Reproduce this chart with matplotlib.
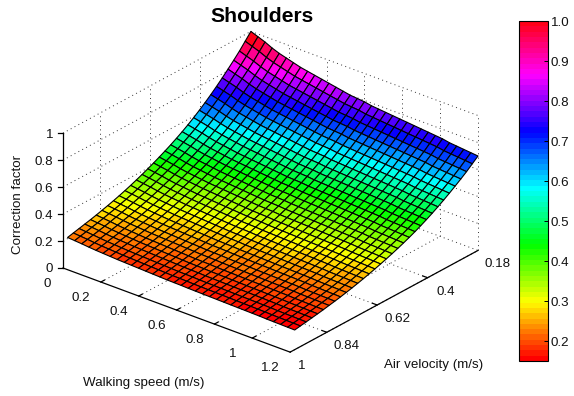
import matplotlib
matplotlib.use("Agg")
import matplotlib.pyplot as plt
import numpy as np
from matplotlib.lines import Line2D
from matplotlib.colors import Normalize
from mpl_toolkits.mplot3d import proj3d

plt.rcParams['font.family'] = ['Liberation Sans', 'DejaVu Sans']

W, H = 574, 396

walk_ticks = [0, 0.2, 0.4, 0.6, 0.8, 1, 1.2]
air_ticks = [0.18, 0.4, 0.62, 0.84, 1]
z_ticks = [0, 0.2, 0.4, 0.6, 0.8, 1]
cbar_ticks = [0.2, 0.3, 0.4, 0.5, 0.6, 0.7, 0.8, 0.9, 1.0]

walking_speed = [0, 0.0375, 0.075, 0.1125, 0.15, 0.1875, 0.225, 0.2625, 0.3, 0.3375, 0.375,
                 0.4125, 0.45, 0.4875, 0.525, 0.5625, 0.6, 0.6375, 0.675, 0.7125, 0.75,
                 0.7875, 0.825, 0.8625, 0.9, 0.9375, 0.975, 1.0125, 1.05, 1.0875, 1.125,
                 1.1625, 1.2]
air_velocity = [0.18, 0.205, 0.23, 0.255, 0.28, 0.305, 0.33, 0.355, 0.38, 0.405, 0.43,
                0.455, 0.48, 0.505, 0.53, 0.555, 0.58, 0.605, 0.63, 0.655, 0.68,
                0.705, 0.73, 0.755, 0.78, 0.805, 0.83, 0.855, 0.88, 0.905, 0.93,
                0.955, 0.98]

# correction factor along the back-left edge (walking speed 0)
edge_at_still = [1.00, 0.95, 0.90, 0.855, 0.812, 0.77, 0.73, 0.692, 0.656, 0.622, 0.59,
                 0.56, 0.532, 0.506, 0.481, 0.458, 0.436, 0.415, 0.395, 0.376, 0.358,
                 0.341, 0.325, 0.31, 0.296, 0.283, 0.271, 0.259, 0.248, 0.238, 0.228,
                 0.218, 0.208]
walk_drop = [1.00, 0.98, 0.96, 0.935, 0.915, 0.90, 0.885, 0.87, 0.86, 0.85, 0.84,
             0.83, 0.82, 0.81, 0.80, 0.795, 0.79, 0.78, 0.775, 0.77, 0.765,
             0.76, 0.755, 0.75, 0.745, 0.74, 0.735, 0.73, 0.72, 0.715, 0.71,
             0.705, 0.70]

# interior of the surface is not read cell by cell, it is built from the two edges above
Z = np.outer(walk_drop, edge_at_still)
X, Y = np.meshgrid(walking_speed, air_velocity, indexing='ij')

cmap = plt.get_cmap('hsv', 64)
norm = Normalize(0.15, 1.0)

fig = plt.figure(figsize=(W / 100, H / 100), dpi=100)
ax = fig.add_axes([0.1, 0.1, 0.6, 0.8], projection='3d', proj_type='ortho', computed_zorder=False)
ax.view_init(elev=26.6, azim=-50.4)
ax.set_box_aspect((295, 295, 151))
ax.set_xlim(0, 1.2, view_margin=0)
ax.set_ylim(1, 0.18, view_margin=0)
ax.set_zlim(0, 1, view_margin=0)
ax.set_axis_off()
ax.patch.set_alpha(0)


def to_px(x, y, z):
    ax.apply_aspect()
    xp, yp, _ = proj3d.proj_transform(x, y, z, ax.get_proj())
    return ax.transData.transform((xp, yp))


# move the axes so the floor corners land where they are in the reference
for i in range(4):
    left = to_px(0, 1, 0)
    right = to_px(1.2, 0.18, 0)
    s = (478 - 63) / (right[0] - left[0])
    p = ax.get_position(original=True)
    ax.set_position([p.x0, p.y0, p.width * s, p.height * s])
    left = to_px(0, 1, 0)
    p = ax.get_position(original=True)
    ax.set_position([p.x0 + (63 - left[0]) / W, p.y0 + ((H - 268) - left[1]) / H, p.width, p.height])

grid = dict(color='#333333', lw=0.7, ls=(0, (1, 3.5)), zorder=1)
for w in walk_ticks[1:]:
    ax.plot([w, w], [1, 0.18], [0, 0], **grid)
    ax.plot([w, w], [0.18, 0.18], [0, 1], **grid)
for a in air_ticks[:-1]:
    ax.plot([0, 1.2], [a, a], [0, 0], **grid)
    ax.plot([0, 0], [a, a], [0, 1], **grid)
for z in z_ticks[1:]:
    ax.plot([0, 0], [1, 0.18], [z, z], **grid)
    ax.plot([0, 1.2], [0.18, 0.18], [z, z], **grid)

ax.plot_surface(X, Y, Z, rstride=1, cstride=1, facecolors=cmap(norm(Z)), shade=False,
                edgecolor='black', linewidth=0.8, zorder=2)

axis = dict(color='black', lw=0.9, zorder=3)
ax.plot([0, 1.2], [1, 1], [0, 0], **axis)
ax.plot([1.2, 1.2], [1, 0.18], [0, 0], **axis)
ax.plot([0, 0], [1, 1], [0, 1], **axis)
for w in walk_ticks[1:-1]:
    ax.plot([w, w], [1, 0.985], [0, 0], **axis)
for a in air_ticks[1:-1]:
    ax.plot([1.2, 1.175], [a, a], [0, 0], **axis)

FS = 9.6


def label(x, y, z, text, dx, dy, **kw):
    px = to_px(x, y, z)
    fig.text((px[0] + dx) / W, (px[1] - dy) / H, text, fontsize=FS, ha='center', va='center',
             color='#111111', **kw)


for w, t in zip(walk_ticks, ['0', '0.2', '0.4', '0.6', '0.8', '1', '1.2']):
    label(w, 1, 0, t, -16 if w == 0 else -20, 16)
for a, t in zip(air_ticks, ['0.18', '0.4', '0.62', '0.84', '1']):
    label(1.2, a, 0, t, 12 if a == 1 else 20 if a in (0.18, 0.62, 0.84) else 18, 14)
for z, t in zip(z_ticks, ['0', '0.2', '0.4', '0.6', '0.8', '1']):
    px = to_px(0, 1, z)
    fig.add_artist(Line2D([px[0] - 5, px[0]], [px[1], px[1]], color='black', lw=0.9,
                          transform=None))
    fig.text((px[0] - 10) / W, (px[1] - 1.5) / H, t, fontsize=FS, ha='right', va='center', color='#111111')

fig.text(262 / W, 1 - 17 / H, 'Shoulders', fontsize=15.2, fontweight='bold', ha='center', va='center')
fig.text(144 / W, 1 - 383 / H, 'Walking speed (m/s)', fontsize=FS, ha='center', va='center', color='#111111')
fig.text(434 / W, 1 - 365 / H, 'Air velocity (m/s)', fontsize=FS, ha='center', va='center', color='#111111')
fig.text(18 / W, 1 - 204 / H, 'Correction factor', fontsize=FS, rotation=90, ha='center', va='center', color='#111111')

# colorbar
cax = fig.add_axes([519 / W, 1 - 361 / H, 29 / W, 340 / H])
cb = fig.colorbar(plt.cm.ScalarMappable(norm=norm, cmap=cmap), cax=cax, drawedges=False)
cb.set_ticks(cbar_ticks)
cb.set_ticklabels(['%.1f' % t for t in cbar_ticks])
cax.tick_params(axis='y', direction='in', length=3, width=0.7, labelsize=FS, pad=2, labelcolor='#111111')
cb.outline.set_linewidth(0.8)

fig.savefig('out.png', dpi=100)
